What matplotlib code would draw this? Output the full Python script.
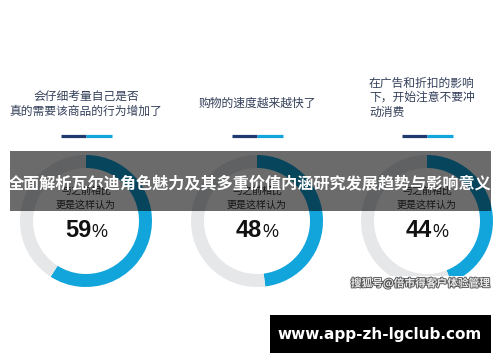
import matplotlib.pyplot as plt
import matplotlib.patheffects as pe
from matplotlib.patches import Rectangle

# datos del grafico
preguntas = [
    ['会仔细考量自己是否', '真的需要该商品的行为增加了'],
    ['购物的速度越来越快了'],
    ['在广告和折扣的影响', '下，开始注意不要冲', '动消费'],
]
porcentajes = [59, 48, 44]
subtitulo = ['与之前相比', '更是这样认为']
titulo = '全面解析瓦尔迪角色魅力及其多重价值内涵研究发展趋势与影响意义'
marca = '搜狐号@倍市得客户体验管理'
url = 'www.app-zh-lgclub.com'

W, H = 500, 362
centros_x = [86, 257, 427]
cy = 221
radio = 66
ancho = 13

azul = '#12a5db'
gris = '#e6e7e9'
navy = '#1f3a6e'
texto = '#34405a'
cjk = ['Noto Sans CJK SC', 'DejaVu Sans']


def Y(v):
    # coordenadas de imagen (y hacia abajo) -> ejes
    return H - v


fig = plt.figure(figsize=(5, 3.62), dpi=100)
ax = fig.add_axes([0, 0, 1, 1])

for cx, p in zip(centros_x, porcentajes):
    ax.pie([p, 100 - p], colors=[azul, gris], startangle=90, counterclock=False,
           radius=radio, center=(cx, Y(cy)),
           wedgeprops=dict(width=ancho, edgecolor='none'))
    ax.text(cx, Y(191), subtitulo[0], ha='center', va='center', fontsize=7.2,
            color='#333333', family=cjk)
    ax.text(cx, Y(205), subtitulo[1], ha='center', va='center', fontsize=7.2,
            color='#333333', family=cjk)
    ax.text(cx + 5, Y(237), str(p), ha='right', va='baseline', fontsize=17,
            fontweight='bold', color='#111111', family='Liberation Sans')
    ax.text(cx + 5.5, Y(237), '%', ha='left', va='baseline', fontsize=13,
            color='#111111', family='Liberation Sans')

# preguntas
ax.text(centros_x[0], Y(96), preguntas[0][0], ha='center', va='center',
        fontsize=8.5, color=texto, family=cjk)
ax.text(centros_x[0], Y(111), preguntas[0][1], ha='center', va='center',
        fontsize=8.5, color=texto, family=cjk)
ax.text(centros_x[1], Y(103), preguntas[1][0], ha='center', va='center',
        fontsize=8.5, color=texto, family=cjk)
for i, linea in enumerate(preguntas[2]):
    ax.text(369, Y(83 + 14.5 * i), linea, ha='left', va='center',
            fontsize=8.5, color=texto, family=cjk)

# barritas bajo las preguntas
for cx in centros_x:
    ax.hlines(Y(136), cx - 25, cx, color=navy, lw=2.3)
    ax.hlines(Y(136), cx, cx + 26, color=azul, lw=2.3)

# banda oscura con el titulo
ax.add_patch(Rectangle((10, Y(211)), 481, 60, facecolor='black', alpha=0.58,
                       edgecolor='none', zorder=5))
ax.text(250, Y(184), titulo, ha='center', va='center', fontsize=11.6,
        fontweight='bold', color='white', family=cjk, zorder=6)

# marca de agua
ax.add_patch(Rectangle((340, Y(293)), 160, 17, facecolor='white',
                       edgecolor='none', zorder=4))
ax.text(420, Y(283), marca, ha='center', va='center', fontsize=7.7,
        fontweight='bold', color='#e8e8e8', family=cjk, zorder=6,
        path_effects=[pe.withStroke(linewidth=1.3, foreground='#555555')])

# caja negra con url
ax.add_patch(Rectangle((270, Y(353)), 221, 38, facecolor='black',
                       edgecolor='none', zorder=5))
ax.text(380, Y(335), url, ha='center', va='center', fontsize=11,
        fontweight='bold', color='white', family='DejaVu Sans', zorder=6)

ax.set_xlim(0, W)
ax.set_ylim(0, H)
ax.set_aspect('auto')
ax.axis('off')

fig.savefig('out.png', dpi=100)
